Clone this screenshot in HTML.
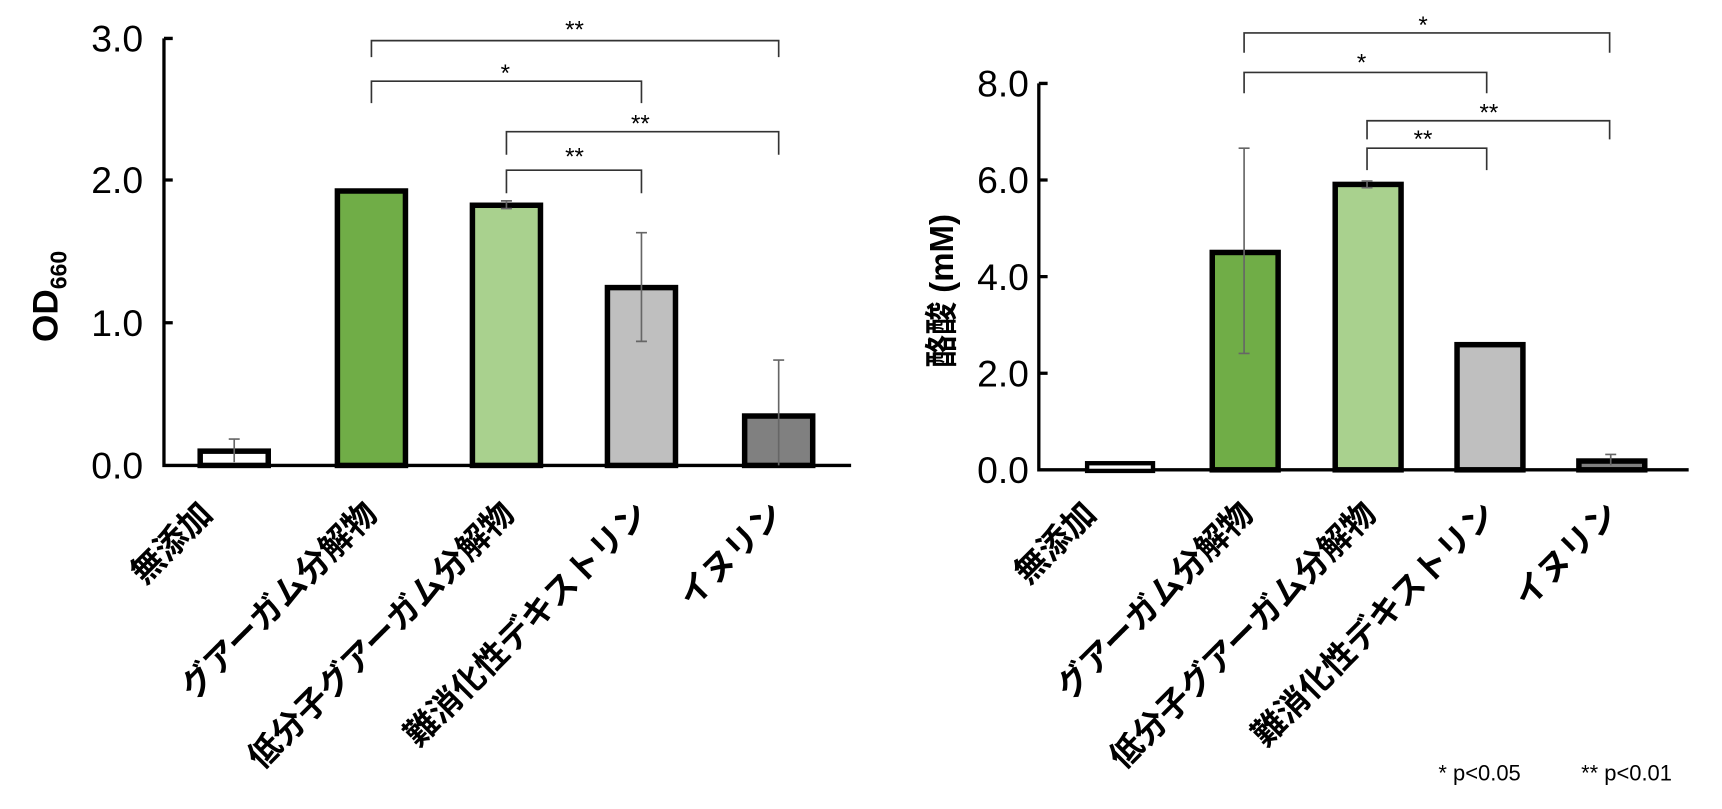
<!DOCTYPE html><html><head><meta charset="utf-8"><style>body{margin:0;background:#fff}svg{display:block}</style></head><body>
<svg width="1722" height="809" viewBox="0 0 1568 737" xmlns="http://www.w3.org/2000/svg" font-family="'Liberation Sans','Noto Sans CJK JP',sans-serif">
<g fill="none" stroke="#000" stroke-width="3">
<path d="M149,35 V424 H775"/><path d="M149,35h8M149,164h8M149,294h8"/>
<path d="M946,76 V428 H1538"/><path d="M946,76h8M946,164h8M946,252h8M946,340h8"/>
</g>
<g font-size="34" text-anchor="end" fill="#000" font-family="'Liberation Sans Narrow','Liberation Sans',sans-serif">
<text x="130" y="47">3.0</text><text x="130" y="176">2.0</text><text x="130" y="306">1.0</text><text x="130" y="436">0.0</text>
<text x="937" y="88">8.0</text><text x="937" y="176">6.0</text><text x="937" y="264">4.0</text><text x="937" y="352">2.0</text><text x="937" y="440">0.0</text>
</g>
<text transform="translate(52,270) rotate(-90)" text-anchor="middle" font-size="32" font-weight="bold">OD<tspan font-size="21" dy="8">660</tspan></text>
<text transform="translate(868,265) rotate(-90)" text-anchor="middle" font-size="30" font-weight="bold">酪酸 (mM)</text>
<g stroke="#000" stroke-width="5">
<rect x="182" y="411" width="62" height="13" fill="#fff"/>
<rect x="307" y="174" width="62" height="250" fill="#70ad47"/>
<rect x="430" y="187" width="62" height="237" fill="#a9d18e"/>
<rect x="553" y="262" width="62" height="162" fill="#bfbfbf"/>
<rect x="678" y="379" width="62" height="45" fill="#808080"/>
<rect x="990" y="422" width="60" height="7" fill="#fff" stroke-width="4"/>
<rect x="1104" y="230" width="60" height="198" fill="#70ad47"/>
<rect x="1216" y="168" width="60" height="260" fill="#a9d18e"/>
<rect x="1327" y="314" width="60" height="114" fill="#bfbfbf"/>
<rect x="1438" y="420" width="60" height="8" fill="#808080"/>
</g>
<g stroke="#666" stroke-width="1.5" fill="none">
<path d="M213,400V421M208,400h10"/>
<path d="M461,183V190M456,183h10M456,190h10"/>
<path d="M584,212V311M579,212h10M579,311h10"/>
<path d="M709,328V424M704,328h10"/>
<path d="M1133,135V322M1128,135h10M1128,322h10"/>
<path d="M1245,165V171M1240,165h10M1240,171h10"/>
<path d="M1467,414V424M1462,414h10"/>
</g>
<g stroke="#333" stroke-width="1.5" fill="none">
<path d="M338,52V37H709V52"/><path d="M338,94V74H584V94"/><path d="M461,141V120H709V141"/><path d="M461,176V155H584V176"/>
<path d="M1133,48V30H1466V48"/><path d="M1133,85V66H1354V85"/><path d="M1245,127V110H1466V127"/><path d="M1245,155V135H1354V155"/>
</g>
<g font-size="22" text-anchor="middle">
<text x="523" y="34">**</text><text x="460" y="74">*</text><text x="583" y="120">**</text><text x="523" y="150">**</text>
<text x="1296" y="30">*</text><text x="1240" y="64">*</text><text x="1356" y="110">**</text><text x="1296" y="134">**</text>
</g>
<g font-size="30" font-weight="bold" text-anchor="end">
<text transform="translate(195,470) rotate(-45)">無添加</text>
<text transform="translate(345,470) rotate(-45)">グアーガム分解物</text>
<text transform="translate(470,470) rotate(-45)">低分子グアーガム分解物</text>
<text transform="translate(592,470) rotate(-45)">難消化性デキストリン</text>
<text transform="translate(715,470) rotate(-45)">イヌリン</text>
<text transform="translate(1000,470) rotate(-45)">無添加</text>
<text transform="translate(1143,470) rotate(-45)">グアーガム分解物</text>
<text transform="translate(1255,470) rotate(-45)">低分子グアーガム分解物</text>
<text transform="translate(1364,470) rotate(-45)">難消化性デキストリン</text>
<text transform="translate(1476,470) rotate(-45)">イヌリン</text>
</g>
<text x="1310" y="711" font-size="20">* p&lt;0.05</text>
<text x="1440" y="711" font-size="20">** p&lt;0.01</text>
</svg></body></html>
